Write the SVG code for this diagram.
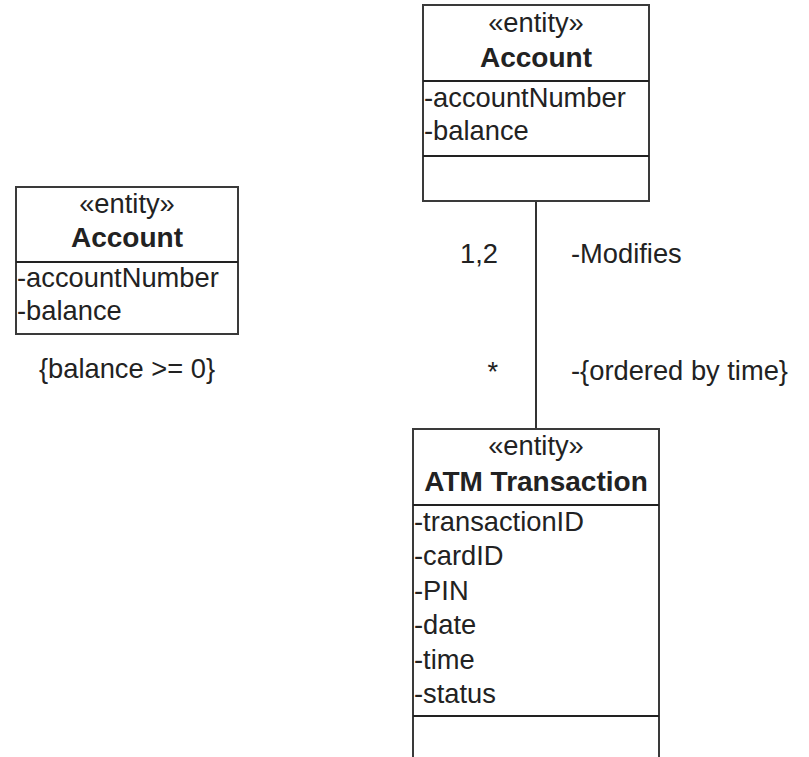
<svg xmlns="http://www.w3.org/2000/svg" width="809" height="757" viewBox="0 0 809 757">
<style>
.box{fill:#fff;stroke:#3a3a3a;stroke-width:2}
.div{stroke:#222;stroke-width:2}
text{font-family:"Liberation Sans",Arial,sans-serif;font-size:27.3px;fill:#222}
.c{text-anchor:middle}
.b{font-weight:bold;font-size:28px}
.e{text-anchor:end}
.conn{stroke:#333;stroke-width:2;fill:none}
</style>
<rect width="809" height="757" fill="#fff"/>
<g id="connectors">
<line class="conn" x1="536" y1="201" x2="536" y2="429"/>
<text class="e" x="498" y="263">1,2</text>
<text x="571" y="263">-Modifies</text>
<text class="e" x="498" y="381">*</text>
<text x="571" y="380">-{ordered by time}</text>
</g>
<g id="account-left">
<rect class="box" x="16" y="187" width="222" height="147"/>
<line class="div" x1="16" y1="262" x2="238" y2="262"/>
<text class="c" x="127" y="213">«entity»</text>
<text class="c b" x="127" y="247">Account</text>
<text x="17" y="287">-accountNumber</text>
<text x="17" y="320">-balance</text>
<text class="c" x="127" y="378">{balance &gt;= 0}</text>
</g>
<g id="account-top">
<rect class="box" x="423" y="5" width="226" height="196"/>
<line class="div" x1="423" y1="81" x2="649" y2="81"/>
<line class="div" x1="423" y1="156" x2="649" y2="156"/>
<text class="c" x="536" y="32">«entity»</text>
<text class="c b" x="536" y="67">Account</text>
<text x="424" y="107">-accountNumber</text>
<text x="424" y="140">-balance</text>
</g>
<g id="atm-transaction">
<rect class="box" x="413" y="429" width="246" height="360"/>
<line class="div" x1="413" y1="505" x2="659" y2="505"/>
<line class="div" x1="413" y1="716" x2="659" y2="716"/>
<text class="c" x="536" y="455">«entity»</text>
<text class="c b" x="536" y="491">ATM Transaction</text>
<text x="414" y="531">-transactionID</text>
<text x="414" y="565.4">-cardID</text>
<text x="414" y="599.8">-PIN</text>
<text x="414" y="634.2">-date</text>
<text x="414" y="668.6">-time</text>
<text x="414" y="703">-status</text>
</g>
</svg>
